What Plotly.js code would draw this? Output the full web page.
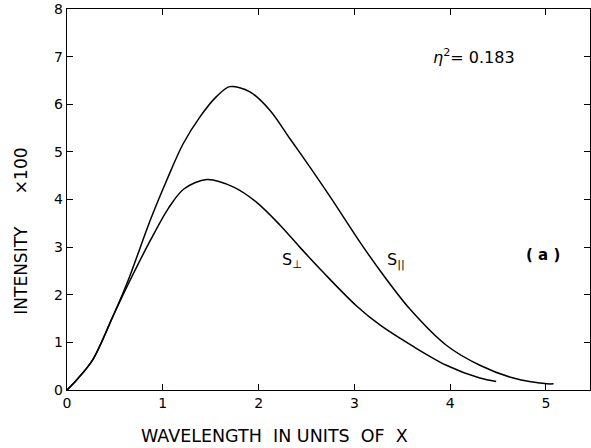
<!DOCTYPE html>
<html>
<head>
<meta charset="utf-8">
<script src="https://cdn.plot.ly/plotly-3.0.1.min.js"></script>
<style>html,body{margin:0;padding:0;background:#fff;}#chart{width:591px;height:448px;}</style>
</head>
<body>
<div id="chart"></div>
<script>
// Data
var sParX = [0, 0.10, 0.27, 0.48, 0.64, 0.87, 1.04, 1.21, 1.39, 1.56, 1.70, 1.91, 2.12, 2.33, 2.54, 2.75, 3.06, 3.30, 3.58, 3.96, 4.31, 4.66, 5.01, 5.08];
var sParY = [0, 0.21, 0.64, 1.55, 2.31, 3.57, 4.40, 5.16, 5.74, 6.16, 6.37, 6.26, 5.87, 5.27, 4.67, 4.05, 3.10, 2.42, 1.70, 0.94, 0.52, 0.25, 0.13, 0.13];
var sPerpX = [0, 0.10, 0.27, 0.48, 0.66, 0.87, 1.06, 1.22, 1.46, 1.74, 1.98, 2.22, 2.43, 2.68, 3.02, 3.27, 3.61, 3.96, 4.31, 4.48];
var sPerpY = [0, 0.21, 0.64, 1.55, 2.31, 3.14, 3.82, 4.22, 4.42, 4.26, 3.94, 3.47, 3.00, 2.46, 1.77, 1.36, 0.92, 0.52, 0.25, 0.18];
var xTicks = [0, 1, 2, 3, 4, 5];
var yTicks = [0, 1, 2, 3, 4, 5, 6, 7, 8];

var font = "DejaVu Sans, Liberation Sans, sans-serif";
var lineStyle = {color: "#000", width: 1.5, shape: "spline", smoothing: 0.9};

var traces = [
  {x: sParX, y: sParY, mode: "lines", line: lineStyle, hoverinfo: "skip", name: "S||"},
  {x: sPerpX, y: sPerpY, mode: "lines", line: lineStyle, hoverinfo: "skip", name: "S⊥"}
];

var axisCommon = {
  showgrid: false, zeroline: false, showline: true, linecolor: "#000", linewidth: 1.2,
  mirror: "ticks", ticks: "inside", ticklen: 6, tickcolor: "#000", tickwidth: 1,
  ticklabeloverflow: "allow",
  tickfont: {family: font, size: 14, color: "#000"}, fixedrange: true
};

var layout = {
  width: 591, height: 448,
  margin: {l: 67, r: 1, t: 9, b: 58},
  paper_bgcolor: "#fff", plot_bgcolor: "#fff",
  showlegend: false,
  xaxis: Object.assign({}, axisCommon, {range: [0, 5.46], tickvals: xTicks, ticktext: xTicks.map(String)}),
  yaxis: Object.assign({}, axisCommon, {range: [0, 8], tickvals: yTicks, ticktext: yTicks.map(String)}),
  annotations: [
    {xref: "paper", yref: "paper", x: -0.088, y: 0.418,
     text: "INTENSITY&nbsp;&nbsp;&nbsp;&nbsp;&nbsp;&nbsp;×100", textangle: -90,
     showarrow: false, font: {family: font, size: 17, color: "#000"}, xanchor: "center", yanchor: "middle"},
    {xref: "paper", yref: "paper", x: 0.396, y: -0.122,
     text: "WAVELENGTH&nbsp;&nbsp;IN&nbsp;UNITS&nbsp;&nbsp;OF&nbsp;&nbsp;X",
     showarrow: false, font: {family: font, size: 17.5, color: "#000"}, xanchor: "center", yanchor: "middle"},
    {xref: "x", yref: "y", x: 4.25, y: 7.0, text: "<i>η</i><sup>2</sup>= 0.183",
     showarrow: false, font: {family: font, size: 16, color: "#000"}, xanchor: "center", yanchor: "middle"},
    {xref: "x", yref: "y", x: 2.35, y: 2.72, text: "S<sub>⊥</sub>",
     showarrow: false, font: {family: font, size: 16, color: "#000"}, xanchor: "center", yanchor: "middle"},
    {xref: "x", yref: "y", x: 3.43, y: 2.72, text: "S<sub>||</sub>",
     showarrow: false, font: {family: font, size: 16, color: "#000"}, xanchor: "center", yanchor: "middle"},
    {xref: "x", yref: "y", x: 4.97, y: 2.83, text: "<b>( a )</b>",
     showarrow: false, font: {family: font, size: 15, color: "#000"}, xanchor: "center", yanchor: "middle"}
  ]
};

Plotly.newPlot("chart", traces, layout, {staticPlot: true, displayModeBar: false});
</script>
</body>
</html>
